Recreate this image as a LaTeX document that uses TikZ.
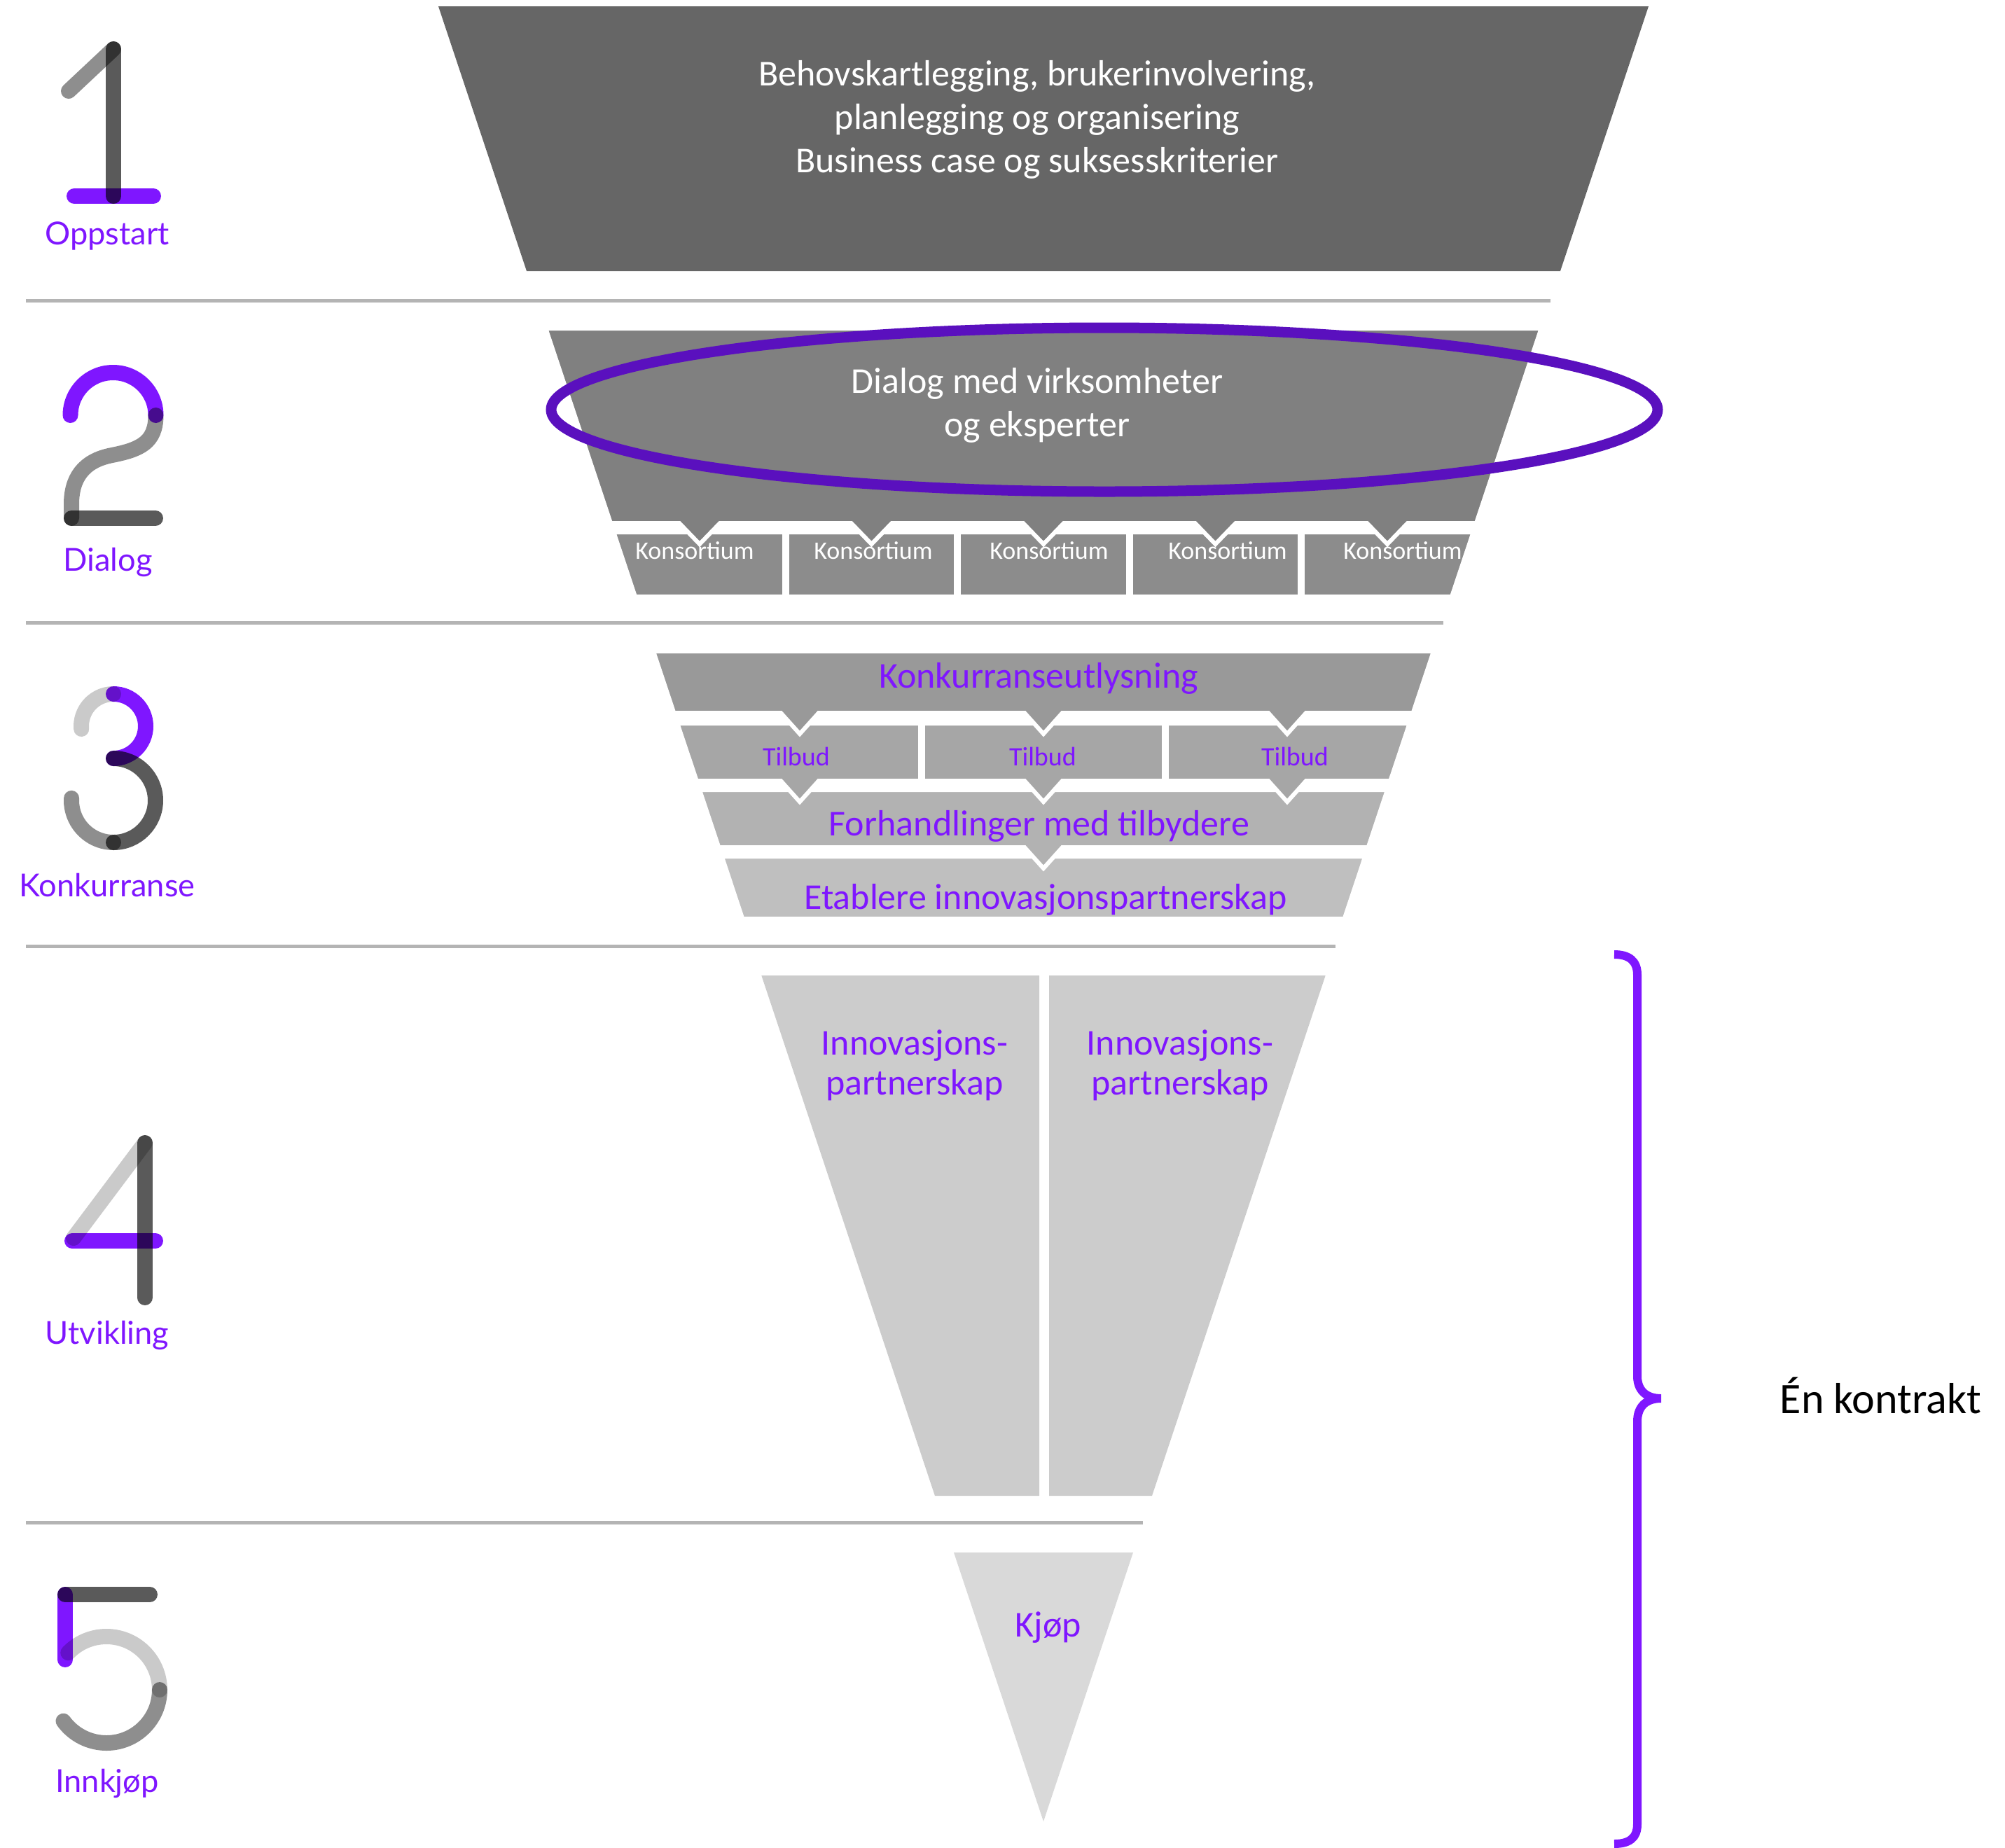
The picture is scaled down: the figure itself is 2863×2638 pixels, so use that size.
\documentclass[tikz,border=0pt]{standalone}
\usepackage{fontspec}
\setmainfont{Carlito}
\newfontfamily\labelfont{Lato}
\definecolor{vio}{HTML}{7F16FF}
\definecolor{ring}{HTML}{5A10BE}
\definecolor{dk}{HTML}{5A5A5A}
\definecolor{md}{HTML}{8E8E8E}
\definecolor{lt}{HTML}{CACACA}
\definecolor{sepc}{HTML}{B4B4B4}
\definecolor{cA}{HTML}{666666}
\definecolor{cB}{HTML}{808080}
\definecolor{cC}{HTML}{8C8C8C}
\definecolor{cD}{HTML}{999999}
\definecolor{cE}{HTML}{A6A6A6}
\definecolor{cF}{HTML}{B2B2B2}
\definecolor{cG}{HTML}{BFBFBF}
\definecolor{cH}{HTML}{CCCCCC}
\definecolor{cI}{HTML}{D9D9D9}
\begin{document}
\begin{tikzpicture}[x=0.25pt,y=-0.25pt,
  stg/.style={draw=white,line width=1.5pt},
  gapline/.style={draw=white,line width=2.5pt},
  sepline/.style={draw=sepc,line width=1.25pt},
  bigw/.style={inner sep=0pt,anchor=base,text=white,font=\fontsize{13}{15.5}\selectfont},
  bigv/.style={inner sep=0pt,anchor=base,text=vio,font=\fontsize{13}{15.5}\selectfont},
  smallw/.style={inner sep=0pt,anchor=base,text=white,font=\fontsize{9}{11}\selectfont},
  smallv/.style={inner sep=0pt,anchor=base,text=vio,font=\fontsize{9.5}{11}\selectfont},
  lbl/.style={inner sep=0pt,anchor=base,text=vio,font=\labelfont\fontsize{11.3}{13}\selectfont},
  digit/.style={line width=5.5pt,line cap=round}]
\useasboundingbox (0,0) rectangle (2863,2638);

% separators
\draw[sepline] (37,429) -- (2214,429);
\draw[sepline] (37,889) -- (2060.7,889);
\draw[sepline] (37,1351) -- (1906.7,1351);
\draw[sepline] (37,2174) -- (1632.3,2174);

% stage 1
\fill[cA] (626,9) -- (2354,9) -- (2228,387) -- (752,387) -- cycle;
\node[bigw] (s1a) at (1481,122) {Behovskartlegging, brukerinvolvering,};
\node[bigw] (s1b) at (1481,184) {planlegging og organisering};
\node[bigw] (s1c) at (1481,246) {Business case og suksesskriterier};

% stage 2 : konsortium row
\fill[cC,stg] (876.3,760) -- (2103.7,760) -- (2073,852) -- (907,852) -- cycle;
\foreach \d in {1121.75,1367.25,1612.75,1858.25} \draw[gapline] (\d,754) -- (\d,858);
% stage 2 main
\fill[cB,stg] (779.3,469) -- (2200.7,469) -- (2108,747)
  -- (2010,747) -- (1981,777) -- (1952,747)
  -- (1764.5,747) -- (1735.5,777) -- (1706.5,747)
  -- (1519,747) -- (1490,777) -- (1461,747)
  -- (1273.5,747) -- (1244.5,777) -- (1215.5,747)
  -- (1028,747) -- (999,777) -- (970,747)
  -- (872,747) -- cycle;
\foreach \x/\n in {992/k1,1247/k2,1498/k3,1753/k4,2003/k5}
  \node[smallw] (\n) at (\x,798) {Konsortium};
\node[bigw] (s2a) at (1481,561) {Dialog med virksomheter};
\node[bigw] (s2b) at (1481,623) {og eksperter};
\draw[ring,line width=3.75pt] (1577,585) ellipse [x radius=790, y radius=117];

% stage 3
\fill[cG,stg] (1030.7,1223) -- (1949.3,1223) -- (1919.7,1312) -- (1060.3,1312) -- cycle;
\fill[cF,stg] (999,1128) -- (1981,1128) -- (1953.7,1210) -- (1517,1210) -- (1490,1240) -- (1463,1210) -- (1026.3,1210) -- cycle;
\fill[cE,stg] (967.3,1033) -- (2012.7,1033) -- (1985.3,1115)
  -- (1865,1115) -- (1838,1145) -- (1811,1115)
  -- (1517,1115) -- (1490,1145) -- (1463,1115)
  -- (1169,1115) -- (1142,1145) -- (1115,1115)
  -- (994.7,1115) -- cycle;
\foreach \d in {1316,1664} \draw[gapline] (\d,1028) -- (\d,1120);
\fill[cD,stg] (933,930) -- (2047,930) -- (2017.7,1018)
  -- (1865,1018) -- (1838,1048) -- (1811,1018)
  -- (1517,1018) -- (1490,1048) -- (1463,1018)
  -- (1169,1018) -- (1142,1048) -- (1115,1018)
  -- (962.3,1018) -- cycle;
\node[bigv] (kon) at (1483,982) {Konkurranseutlysning};
\foreach \x/\n in {1137/t1,1489/t2,1849/t3}
  \node[smallv] (\n) at (\x,1093) {Tilbud};
\node[bigv] (forh) at (1484,1193) {Forhandlinger med tilbydere};
\node[bigv] (etab) at (1493,1298) {Etablere innovasjonspartnerskap};

% stage 4
\fill[cH] (1087.3,1393) -- (1484,1393) -- (1484,2136) -- (1335,2136) -- cycle;
\fill[cH] (1498,1393) -- (1892.7,1393) -- (1645,2136) -- (1498,2136) -- cycle;
\node[bigv] (ip1a) at (1306,1506) {Innovasjons-};
\node[bigv] (ip1b) at (1306,1563) {partnerskap};
\node[bigv] (ip2a) at (1685,1506) {Innovasjons-};
\node[bigv] (ip2b) at (1685,1563) {partnerskap};

% stage 5
\fill[cI] (1362,2217) -- (1618,2217) -- (1490,2601) -- cycle;
\node[bigv] (kjop) at (1497,2337) {Kjøp};

% brace
\draw[vio,line width=3pt] (2305,1363) .. controls (2326,1363) and (2338,1372) .. (2338,1392)
  -- (2338,1965) .. controls (2338,1985) and (2350,1997) .. (2372,1997)
  .. controls (2350,1997) and (2338,2009) .. (2338,2030)
  -- (2338,2605) .. controls (2338,2625) and (2326,2633) .. (2305,2633);
\node[inner sep=0pt,anchor=base west,font=\fontsize{15.5}{18}\selectfont] (kontr) at (2541,2018) {Én kontrakt};

% digits
\begin{scope}[blend mode=multiply,digit]
\draw[md] (98,130) -- (162,70);
\draw[dk] (162,70) -- (162,280);
\draw[vio] (106,280) -- (219,280);
\draw[vio] (100.5,593) arc[start angle=180,end angle=360,radius=61];
\draw[md] (222.5,593) .. controls (222.5,632) and (200,642) .. (160,650) .. controls (118,658) and (102,684) .. (102,720) -- (102,740);
\draw[dk] (102,740) -- (222,740);
\draw[lt] (116.2,1041) arc[start angle=175,end angle=270,radius=46];
\draw[vio] (162,991) arc[start angle=270,end angle=450,radius=46];
\draw[dk] (162,1083) arc[start angle=270,end angle=450,radius=60];
\draw[md] (162,1203) arc[start angle=90,end angle=183,radius=60];
\draw[dk] (207,1632) -- (207,1853);
\draw[lt] (207,1632) -- (105,1768);
\draw[vio] (103,1772) -- (222,1772);
\draw[dk] (93,2277) -- (214,2277);
\draw[vio] (93,2277) -- (93,2370);
\draw[lt] (97.3,2360.2) arc[start angle=224,end angle=360,radius=76];
\draw[md] (228,2413) arc[start angle=0,end angle=144,radius=76];
\end{scope}
\node[lbl] (l1) at (153,349) {Oppstart};
\node[lbl] (l2) at (154,815) {Dialog};
\node[lbl] (l3) at (153,1280) {Konkurranse};
\node[lbl] (l4) at (153,1919) {Utvikling};
\node[lbl] (l5) at (153,2559) {Innkjøp};
\end{tikzpicture}
\end{document}
